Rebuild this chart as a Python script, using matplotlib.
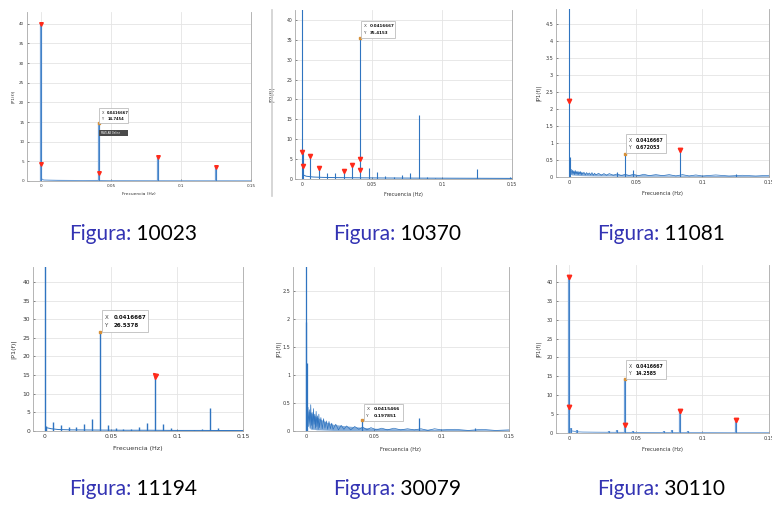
import matplotlib
matplotlib.use('Agg')
import matplotlib.pyplot as plt
from matplotlib.patches import Rectangle
from matplotlib.lines import Line2D
from matplotlib.ticker import FuncFormatter

# ---------------- data ----------------
# Figura 10023
f10023_peaks = [0.0, 0.041667, 0.083333, 0.125]
a10023_peaks = [40.0, 14.7454, 6.0, 3.5]
f10023_base = [0.0005, 0.002, 0.006, 0.012, 0.02, 0.03, 0.04, 0.05, 0.07, 0.09, 0.11, 0.13, 0.15]
a10023_base = [0.5, 0.25, 0.2, 0.15, 0.12, 0.1, 0.12, 0.08, 0.07, 0.06, 0.05, 0.05, 0.04]
f10023_marks = [0.0, 0.0, 0.041667, 0.083333, 0.125]
a10023_marks = [40.0, 4.3, 2.1, 6.0, 3.5]

# Figura 10370
f10370_peaks = [0.0, 0.0005, 0.00595, 0.0119, 0.0179, 0.0238, 0.0298, 0.0357, 0.041667,
                0.0476, 0.0536, 0.0595, 0.0655, 0.0714, 0.0774, 0.083333, 0.0893, 0.0952,
                0.125, 0.1488]
a10370_peaks = [60.0, 6.7, 5.9, 2.85, 1.5, 1.6, 2.0, 3.4, 35.4153,
                2.7, 1.7, 0.8, 0.4, 0.9, 1.4, 16.0, 0.6, 0.3,
                2.4, 0.5]
f10370_base = [0.001, 0.003, 0.008, 0.015, 0.025, 0.04, 0.06, 0.08, 0.1, 0.12, 0.15]
a10370_base = [1.0, 0.7, 0.5, 0.4, 0.35, 0.3, 0.25, 0.22, 0.2, 0.18, 0.15]
f10370_marks = [0.0, 0.0005, 0.00595, 0.0119, 0.0298, 0.0357, 0.041667, 0.041667]
a10370_marks = [6.7, 3.3, 5.9, 2.85, 2.0, 3.4, 5.0, 2.2]

# shared frequency grid of the hand-read noise floor (panels 11081 and 30079)
f_noise = [0.0015, 0.002, 0.0025, 0.003, 0.0035, 0.004, 0.0045, 0.005, 0.0055, 0.006,
           0.0065, 0.007, 0.0075, 0.008, 0.0085, 0.009, 0.0095, 0.010,
           0.011, 0.012, 0.013, 0.014, 0.015, 0.016, 0.017, 0.018, 0.019, 0.020,
           0.022, 0.024, 0.026, 0.028, 0.030,
           0.033, 0.036, 0.039, 0.042, 0.045, 0.048,
           0.052, 0.056, 0.060,
           0.065, 0.070, 0.075, 0.080, 0.085, 0.090, 0.095, 0.100,
           0.110, 0.120, 0.130, 0.140, 0.150]

# Figura 11081
f11081_peaks = [0.0, 0.0003, 0.036, 0.041667, 0.048, 0.083333, 0.125]
a11081_peaks = [6.0, 0.6, 0.15, 0.672053, 0.2, 0.78, 0.1]
a11081_noise = [0.22, 0.08, 0.2, 0.1, 0.18, 0.07, 0.19, 0.09, 0.16, 0.08,
                0.17, 0.07, 0.15, 0.09, 0.16, 0.06, 0.14, 0.08,
                0.14, 0.06, 0.13, 0.07, 0.12, 0.06, 0.13, 0.05, 0.11, 0.06,
                0.11, 0.05, 0.1, 0.05, 0.1,
                0.05, 0.09, 0.04, 0.08, 0.04, 0.08,
                0.04, 0.08, 0.04,
                0.07, 0.04, 0.07, 0.03, 0.07, 0.03, 0.06, 0.03,
                0.06, 0.03, 0.05, 0.03, 0.05]
f11081_band = [0.0008, 0.002, 0.005, 0.01, 0.02, 0.03, 0.04, 0.06, 0.08, 0.1, 0.12, 0.15]
a11081_hi = [0.2, 0.18, 0.15, 0.13, 0.1, 0.09, 0.08, 0.07, 0.06, 0.05, 0.045, 0.04]
a11081_lo = [0.08, 0.06, 0.05, 0.04, 0.03, 0.03, 0.02, 0.02, 0.02, 0.015, 0.01, 0.01]
f11081_marks = [0.0, 0.083333]
a11081_marks = [2.22, 0.78]

# Figura 11194
f11194_peaks = [0.0, 0.001, 0.00595, 0.0119, 0.0179, 0.0238, 0.0298, 0.0357, 0.041667,
                0.0476, 0.0536, 0.0595, 0.0655, 0.0714, 0.0774, 0.083333, 0.0893, 0.0952,
                0.113, 0.119, 0.125, 0.131]
a11194_peaks = [60.0, 1.3, 2.5, 1.6, 1.1, 1.1, 1.8, 3.1, 26.5378,
                1.7, 0.7, 0.5, 0.6, 1.1, 2.2, 14.7, 2.0, 0.8,
                0.4, 0.6, 6.1, 0.7]
f11194_base = [0.001, 0.005, 0.01, 0.02, 0.04, 0.06, 0.08, 0.1, 0.12, 0.15]
a11194_base = [0.9, 0.6, 0.4, 0.3, 0.25, 0.2, 0.2, 0.15, 0.15, 0.12]
f11194_marks = [0.083333]
a11194_marks = [14.7]

# Figura 30079
f30079_peaks = [0.0, 0.0003, 0.001, 0.041547, 0.083333, 0.125]
a30079_peaks = [5.0, 1.95, 1.22, 0.197851, 0.24, 0.05]
a30079_noise = [0.42, 0.08, 0.38, 0.05, 0.47, 0.10, 0.33, 0.04, 0.40, 0.12,
                0.30, 0.05, 0.35, 0.08, 0.27, 0.03, 0.30, 0.06,
                0.24, 0.04, 0.22, 0.05, 0.18, 0.03, 0.17, 0.04, 0.14, 0.03,
                0.12, 0.02, 0.10, 0.03, 0.09,
                0.02, 0.08, 0.03, 0.07, 0.02, 0.06,
                0.02, 0.05, 0.02,
                0.05, 0.02, 0.04, 0.02, 0.04, 0.01, 0.04, 0.02,
                0.03, 0.01, 0.03, 0.01, 0.02]
f30079_band = [0.0015, 0.003, 0.004, 0.006, 0.008, 0.01, 0.015, 0.02, 0.03, 0.04, 0.05, 0.07, 0.1, 0.15]
a30079_hi = [0.36, 0.34, 0.32, 0.28, 0.25, 0.22, 0.16, 0.12, 0.09, 0.07, 0.05, 0.04, 0.03, 0.02]
a30079_lo = [0.25, 0.04, 0.03, 0.03, 0.02, 0.02, 0.015, 0.01, 0.01, 0.01, 0.005, 0.005, 0.005, 0.005]

# Figura 30110
f30110_peaks = [0.0, 0.001, 0.006, 0.030, 0.036, 0.041667, 0.048, 0.071, 0.077, 0.083333, 0.089, 0.125]
a30110_peaks = [41.4, 1.2, 0.8, 0.4, 0.7, 14.2585, 0.4, 0.5, 0.7, 5.9, 0.5, 3.4]
f30110_base = [0.001, 0.005, 0.01, 0.02, 0.04, 0.06, 0.08, 0.1, 0.12, 0.15]
a30110_base = [0.6, 0.35, 0.25, 0.2, 0.15, 0.12, 0.1, 0.1, 0.08, 0.08]
f30110_marks = [0.0, 0.0, 0.041667, 0.083333, 0.125]
a30110_marks = [41.4, 7.0, 2.0, 5.9, 3.4]

captions = ["10023", "10370", "11081", "11194", "30079", "30110"]

# ---------------- figure ----------------
W, H = 772, 507
fig = plt.figure(figsize=(W / 100, H / 100), dpi=100)

BLUE = '#2f74c0'
LIGHT = '#6fa0d8'
RED = '#ff2a1a'
GRID = '#e4e4e4'
SPINE = '#a8a8a8'
fmt = FuncFormatter(lambda v, p: '%g' % round(v, 6))


def add_ax(l, t, r, b):
    return fig.add_axes([l / W, 1 - b / H, (r - l) / W, (b - t) / H])


def style(ax, xlim, ylim, yticks, fs, lfs, box, xlab_px, ylab_px):
    ax.set_xlim(*xlim)
    ax.set_ylim(*ylim)
    ax.set_xticks([0, 0.05, 0.1, 0.15])
    ax.set_yticks(yticks)
    ax.xaxis.set_major_formatter(fmt)
    ax.yaxis.set_major_formatter(fmt)
    ax.grid(True, color=GRID, lw=0.6)
    ax.set_axisbelow(True)
    ax.tick_params(direction='in', length=1.5, width=0.4, labelsize=fs,
                   colors='#333333', pad=2)
    for s in ['left', 'bottom', 'right']:
        ax.spines[s].set_color(SPINE)
        ax.spines[s].set_linewidth(0.6)
    ax.spines['top'].set_visible(False)
    l, t, r, b = box
    ax.set_xlabel('Frecuencia (Hz)', fontsize=lfs, color='#333333')
    ax.set_ylabel('|P1(f)|', fontsize=lfs, color='#333333')
    ax.xaxis.set_label_coords(0.5, (b - xlab_px) / (b - t))
    ax.yaxis.set_label_coords((ylab_px - l) / (r - l), 0.5)


def datatip(ax, xp, yp, box, xs, ys, fs):
    l, t, r, b = box
    fig.patches.append(Rectangle((l / W, 1 - b / H), (r - l) / W, (b - t) / H,
                                 transform=fig.transFigure, facecolor='white',
                                 edgecolor='#bdbdbd', lw=0.6, zorder=10))
    h = b - t
    for i, (k, v) in enumerate([('X', xs), ('Y', ys)]):
        yy = t + h * (0.32 + 0.4 * i)
        fig.text((l + 2.5) / W, 1 - yy / H, k, fontsize=fs, va='center',
                 color='#444444', zorder=11)
        fig.text((l + 2.5 + fs * 2.2) / W, 1 - yy / H, v, fontsize=fs, va='center',
                 fontweight='bold', color='#111111', zorder=11)
    ax.plot([xp], [yp], marker='s', ms=1.6, color='#d7913a', zorder=6, clip_on=False)


def marks(ax, f, a, ms=3.2):
    ax.plot(f, a, 'v', color=RED, ms=ms, mec=RED, zorder=5, clip_on=False)


# ---- panel 10023 ----
b1 = (27, 12, 251, 181)
ax1 = add_ax(*b1)
ax1.plot(f10023_base, a10023_base, color=LIGHT, lw=0.8)
ax1.vlines(f10023_peaks, 0, a10023_peaks, color=LIGHT, lw=1.6)
ax1.vlines(f10023_peaks, 0, a10023_peaks, color=BLUE, lw=0.5)
marks(ax1, f10023_marks, a10023_marks, ms=2.6)
style(ax1, (-0.01, 0.15), (0, 43), range(0, 41, 5), 3.0, 3.2, b1, 192, 15)
datatip(ax1, 0.041667, 14.7454, (99, 108, 128, 123), '0.0416667', '14.7454', 2.6)
fig.patches.append(Rectangle((99 / W, 1 - 136 / H), 29 / W, 6 / H, transform=fig.transFigure,
                             facecolor='#4a4a4a', edgecolor='none', zorder=10))
fig.text(101 / W, 1 - 133 / H, 'MATLAB Online', fontsize=1.8, color='white', va='center', zorder=11)

# ---- panel 10370 ----
b2 = (295, 10, 512, 179)
ax2 = add_ax(*b2)
ax2.plot(f10370_base, a10370_base, color=BLUE, lw=0.7)
ax2.vlines(f10370_peaks, 0, a10370_peaks, color=BLUE, lw=0.8)
marks(ax2, f10370_marks, a10370_marks, ms=3.0)
style(ax2, (-0.005, 0.15), (0, 42.5), range(0, 41, 5), 3.3, 3.6, b2, 192, 274)
datatip(ax2, 0.041667, 35.4153, (361, 21, 395, 38), '0.0416667', '35.4153', 3.0)
fig.add_artist(Line2D([272 / W, 272 / W], [1 - 10 / H, 1 - 196 / H], color='#cfcfcf', lw=1.2))

# ---- panel 11081 ----
b3 = (556, 9, 769, 177)
ax3 = add_ax(*b3)
ax3.fill_between(f11081_band, a11081_lo, a11081_hi, color=BLUE, alpha=0.55, lw=0)
ax3.plot(f_noise, a11081_noise, color=BLUE, lw=0.5)
ax3.vlines(f11081_peaks, 0, a11081_peaks, color=BLUE, lw=0.8)
marks(ax3, f11081_marks, a11081_marks)
style(ax3, (-0.01, 0.15), (0, 4.93), [0, 0.5, 1, 1.5, 2, 2.5, 3, 3.5, 4, 4.5],
      3.5, 3.8, b3, 191, 541)
datatip(ax3, 0.041667, 0.672053, (626, 134, 666, 153), '0.0416667', '0.672053', 3.3)

# ---- panel 11194 ----
b4 = (33, 267, 243, 431)
ax4 = add_ax(*b4)
ax4.plot(f11194_base, a11194_base, color=BLUE, lw=0.7)
ax4.vlines(f11194_peaks, 0, a11194_peaks, color=BLUE, lw=1.0)
marks(ax4, f11194_marks, a11194_marks, ms=3.6)
style(ax4, (-0.009, 0.15), (0, 44), range(0, 41, 5), 4.3, 4.6, b4, 446, 16)
datatip(ax4, 0.041667, 26.5378, (102, 310, 148, 332), '0.0416667', '26.5378', 4.0)

# ---- panel 30079 ----
b5 = (293, 267, 509, 431)
ax5 = add_ax(*b5)
ax5.fill_between(f30079_band, a30079_lo, a30079_hi, color=BLUE, alpha=0.6, lw=0)
ax5.plot(f_noise, a30079_noise, color=BLUE, lw=0.5)
ax5.vlines(f30079_peaks, 0, a30079_peaks, color=BLUE, lw=0.9)
style(ax5, (-0.0096, 0.15), (0, 2.93), [0, 0.5, 1, 1.5, 2, 2.5], 3.5, 3.8, b5, 447, 281)
datatip(ax5, 0.041547, 0.197851, (364, 404, 403, 421), '0.0415466', '0.197851', 3.2)

# ---- panel 30110 ----
b6 = (556, 265, 769, 433)
ax6 = add_ax(*b6)
ax6.plot(f30110_base, a30110_base, color=LIGHT, lw=0.7)
ax6.vlines(f30110_peaks, 0, a30110_peaks, color=LIGHT, lw=1.6)
ax6.vlines(f30110_peaks, 0, a30110_peaks, color=BLUE, lw=0.5)
marks(ax6, f30110_marks, a30110_marks)
style(ax6, (-0.01, 0.15), (0, 44.5), range(0, 41, 5), 3.5, 3.8, b6, 447, 541)
datatip(ax6, 0.041667, 14.2585, (626, 360, 666, 379), '0.0416667', '14.2585', 3.3)

# ---- captions ----
cap_pos = [(69, 240), (333, 240), (597, 240), (69, 495), (333, 495), (597, 495)]
for (cx, cy), num in zip(cap_pos, captions):
    t1 = fig.text(cx / W, 1 - cy / H, 'Figura:', fontsize=15, color='#3333b3',
                  family='Lato', va='baseline')
    fig.add_artist(matplotlib.text.Annotation(' ' + num, xy=(1, 0), xycoords=t1,
                                              va='bottom', fontsize=15, color='black',
                                              family='Lato'))

fig.savefig('out.png', dpi=100, facecolor='white')
